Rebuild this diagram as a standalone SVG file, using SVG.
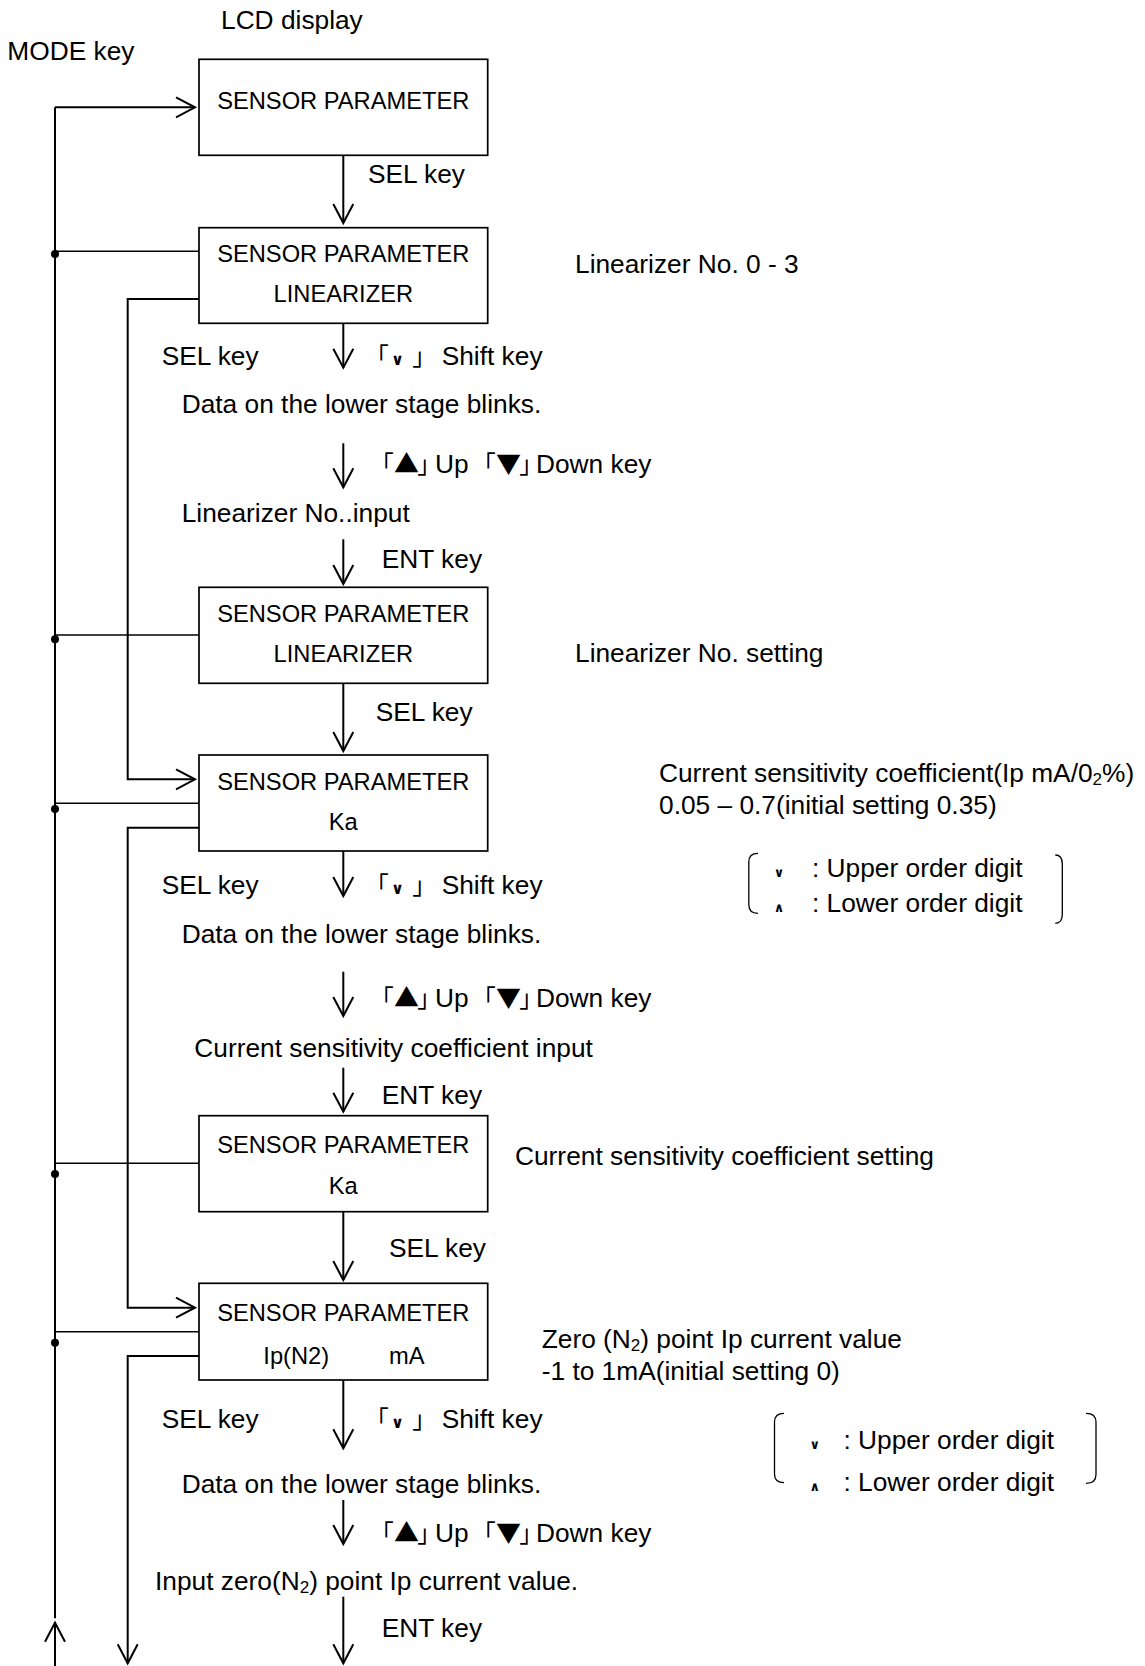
<svg xmlns="http://www.w3.org/2000/svg" width="1145" height="1666" viewBox="0 0 1145 1666">
<style>
text{font-family:'Liberation Sans',Arial,'Noto Sans CJK JP',sans-serif;fill:#000}
.lb{font-size:26.3px}
.bx{font-size:23.7px}
.c{text-anchor:middle}
.cjk{font-family:'Noto Sans CJK JP','Liberation Sans',sans-serif;font-size:24px;font-feature-settings:"palt"}
.tri{font-family:'Noto Sans CJK JP','Liberation Sans',sans-serif;font-size:25px}
.chev{font-family:'DejaVu Sans','Liberation Sans',sans-serif;font-weight:bold;text-anchor:middle}
.box{fill:#fff;stroke:#000;stroke-width:1.7}
.w{fill:none;stroke:#000;stroke-width:2}
.j{fill:none;stroke:#000;stroke-width:1.4}
.br{fill:none;stroke:#000;stroke-width:1.3}
</style>
<defs>
<marker id="ah" markerUnits="userSpaceOnUse" markerWidth="26" markerHeight="26" viewBox="-22 -13 26 26" refX="0" refY="0" orient="auto" overflow="visible">
<path d="M-19,-10 L0,0 L-19,10" fill="none" stroke="#000" stroke-width="2"/>
</marker>
</defs>

<g id="connectors">
<line class="w" x1="55" y1="107.3" x2="55" y2="1618.3"/>
<path class="w" d="M55,107.3 H195" marker-end="url(#ah)"/>
<line class="j" x1="55" y1="251.3" x2="199" y2="251.3"/>
<line class="j" x1="55" y1="635" x2="199" y2="635"/>
<line class="j" x1="55" y1="803.3" x2="199" y2="803.3"/>
<line class="j" x1="55" y1="1163.3" x2="199" y2="1163.3"/>
<line class="j" x1="55" y1="1331.7" x2="199" y2="1331.7"/>
<circle cx="55" cy="254" r="4"/>
<circle cx="55" cy="639.3" r="4"/>
<circle cx="55" cy="809" r="4"/>
<circle cx="55" cy="1174" r="4"/>
<circle cx="55" cy="1342.7" r="4"/>
<path class="w" d="M199,299 H127.7 V779.3 H195" marker-end="url(#ah)"/>
<path class="w" d="M199,827.7 H127.7 V1307.7 H195" marker-end="url(#ah)"/>
<path class="w" d="M199,1356 H127.7 V1663.3" marker-end="url(#ah)"/>
<path class="w" d="M55,1670 V1622.7" marker-end="url(#ah)"/>
<path class="w" d="M343.3,155.3 V223" marker-end="url(#ah)"/>
<path class="w" d="M343.3,323.3 V367.7" marker-end="url(#ah)"/>
<path class="w" d="M343.3,443.3 V487.3" marker-end="url(#ah)"/>
<path class="w" d="M343.3,539.3 V584" marker-end="url(#ah)"/>
<path class="w" d="M343.3,683.3 V751" marker-end="url(#ah)"/>
<path class="w" d="M343.3,851 V896" marker-end="url(#ah)"/>
<path class="w" d="M343.3,971.7 V1016" marker-end="url(#ah)"/>
<path class="w" d="M343.3,1067.7 V1111.7" marker-end="url(#ah)"/>
<path class="w" d="M343.3,1211.7 V1280" marker-end="url(#ah)"/>
<path class="w" d="M343.3,1380 V1448.3" marker-end="url(#ah)"/>
<path class="w" d="M343.3,1500 V1544" marker-end="url(#ah)"/>
<path class="w" d="M343.3,1596.7 V1663.3" marker-end="url(#ah)"/>
</g>

<g id="headings">
<text class="lb" x="221" y="29.3">LCD display</text>
<text class="lb" x="7.3" y="60">MODE key</text>
</g>

<g id="box1">
<rect class="box" x="199" y="59.3" width="288.7" height="96"/>
<text class="bx c" x="343.3" y="109.3">SENSOR PARAMETER</text>
</g>
<text class="lb" x="368" y="182.7">SEL key</text>

<g id="box2">
<rect class="box" x="199" y="227.7" width="288.7" height="95.6"/>
<text class="bx c" x="343.3" y="261.7">SENSOR PARAMETER</text>
<text class="bx c" x="343.3" y="301.7">LINEARIZER</text>
</g>
<text class="lb" x="575" y="273">Linearizer No. 0 - 3</text>

<g id="step1">
<text class="lb" x="161.7" y="365">SEL key</text>
<text class="lb" y="365"><tspan class="cjk" x="376.3">「</tspan><tspan class="chev" x="397.5" font-size="16">∨</tspan><tspan class="cjk" x="412.7">」</tspan><tspan x="441.7">Shift key</tspan></text>
<text class="lb" x="181.7" y="413.3">Data on the lower stage blinks.</text>
<text class="lb" y="472.7"><tspan class="cjk" x="381.3">「</tspan><tspan class="tri" x="394">▲</tspan><tspan class="cjk" x="417.7">」</tspan><tspan x="435">Up</tspan><tspan class="cjk" x="483.3">「</tspan><tspan class="tri" x="496">▼</tspan><tspan class="cjk" x="519.7">」</tspan><tspan x="536">Down key</tspan></text>
<text class="lb" x="181.7" y="521.7">Linearizer No..input</text>
<text class="lb" x="381.7" y="568.3">ENT key</text>
</g>

<g id="box3">
<rect class="box" x="199" y="587.3" width="288.7" height="96"/>
<text class="bx c" x="343.3" y="621.7">SENSOR PARAMETER</text>
<text class="bx c" x="343.3" y="661.7">LINEARIZER</text>
</g>
<text class="lb" x="575" y="661.7">Linearizer No. setting</text>
<text class="lb" x="375.7" y="721">SEL key</text>

<g id="box4">
<rect class="box" x="199" y="755" width="288.7" height="96"/>
<text class="bx c" x="343.3" y="790">SENSOR PARAMETER</text>
<text class="bx c" x="343.3" y="830">Ka</text>
</g>
<text class="lb" x="659" y="782">Current sensitivity coefficient(Ip mA/0<tspan font-size="17" dy="3">2</tspan><tspan dy="-3">%)</tspan></text>
<text class="lb" x="659" y="814">0.05 – 0.7(initial setting 0.35)</text>

<g id="legend1">
<path class="br" d="M758,853.3 Q748.8,853.3 748.8,862 V904.5 Q748.8,913.3 758,913.3"/>
<path class="br" d="M1055.3,855 Q1062.3,855 1062.3,864 V914.3 Q1062.3,923.3 1055.3,923.3"/>
<text class="lb" y="876.7"><tspan class="chev" x="779" font-size="13">∨</tspan><tspan x="812">: Upper order digit</tspan></text>
<text class="lb" y="911.7"><tspan class="chev" x="779" font-size="13">∧</tspan><tspan x="812">: Lower order digit</tspan></text>
</g>

<g id="step2">
<text class="lb" x="161.7" y="894">SEL key</text>
<text class="lb" y="894"><tspan class="cjk" x="376.3">「</tspan><tspan class="chev" x="397.5" font-size="16">∨</tspan><tspan class="cjk" x="412.7">」</tspan><tspan x="441.7">Shift key</tspan></text>
<text class="lb" x="181.7" y="942.7">Data on the lower stage blinks.</text>
<text class="lb" y="1006.7"><tspan class="cjk" x="381.3">「</tspan><tspan class="tri" x="394">▲</tspan><tspan class="cjk" x="417.7">」</tspan><tspan x="435">Up</tspan><tspan class="cjk" x="483.3">「</tspan><tspan class="tri" x="496">▼</tspan><tspan class="cjk" x="519.7">」</tspan><tspan x="536">Down key</tspan></text>
<text class="lb" x="194.3" y="1056.7">Current sensitivity coefficient input</text>
<text class="lb" x="381.7" y="1104">ENT key</text>
</g>

<g id="box5">
<rect class="box" x="199" y="1115.7" width="288.7" height="96"/>
<text class="bx c" x="343.3" y="1152.7">SENSOR PARAMETER</text>
<text class="bx c" x="343.3" y="1194.3">Ka</text>
</g>
<text class="lb" x="515" y="1165">Current sensitivity coefficient setting</text>
<text class="lb" x="389" y="1256.7">SEL key</text>

<g id="box6">
<rect class="box" x="199" y="1283.3" width="288.7" height="96.7"/>
<text class="bx c" x="343.3" y="1321">SENSOR PARAMETER</text>
<text class="bx" x="263.3" y="1364">Ip(N2)</text>
<text class="bx" x="389" y="1364">mA</text>
</g>
<text class="lb" x="541.7" y="1348.3">Zero (N<tspan font-size="17" dy="3">2</tspan><tspan dy="-3">) point Ip current value</tspan></text>
<text class="lb" x="541.7" y="1380">-1 to 1mA(initial setting 0)</text>

<g id="legend2">
<path class="br" d="M784,1413.3 Q774.5,1413.3 774.5,1422 V1474 Q774.5,1482.7 784,1482.7"/>
<path class="br" d="M1086,1413.3 Q1096,1413.3 1096,1422 V1474.5 Q1096,1483.3 1086,1483.3"/>
<text class="lb" y="1449"><tspan class="chev" x="814.7" font-size="13">∨</tspan><tspan x="843.5">: Upper order digit</tspan></text>
<text class="lb" y="1490.7"><tspan class="chev" x="814.7" font-size="13">∧</tspan><tspan x="843.5">: Lower order digit</tspan></text>
</g>

<g id="step3">
<text class="lb" x="161.7" y="1428.3">SEL key</text>
<text class="lb" y="1428.3"><tspan class="cjk" x="376.3">「</tspan><tspan class="chev" x="397.5" font-size="16">∨</tspan><tspan class="cjk" x="412.7">」</tspan><tspan x="441.7">Shift key</tspan></text>
<text class="lb" x="181.7" y="1493.3">Data on the lower stage blinks.</text>
<text class="lb" y="1541.7"><tspan class="cjk" x="381.3">「</tspan><tspan class="tri" x="394">▲</tspan><tspan class="cjk" x="417.7">」</tspan><tspan x="435">Up</tspan><tspan class="cjk" x="483.3">「</tspan><tspan class="tri" x="496">▼</tspan><tspan class="cjk" x="519.7">」</tspan><tspan x="536">Down key</tspan></text>
<text class="lb" x="155" y="1590">Input zero(N<tspan font-size="17" dy="3">2</tspan><tspan dy="-3">) point Ip current value.</tspan></text>
<text class="lb" x="381.7" y="1636.7">ENT key</text>
</g>
</svg>
